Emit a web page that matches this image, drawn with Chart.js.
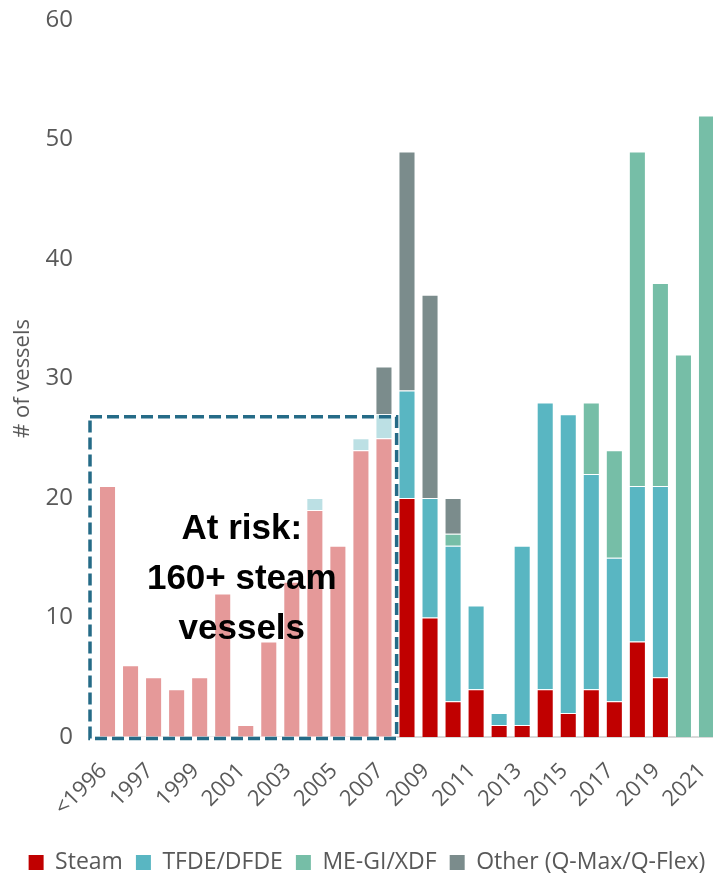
<!DOCTYPE html>
<html>
<head>
<meta charset="utf-8">
<script src="https://cdn.jsdelivr.net/npm/chart.js@4.4.1/dist/chart.umd.min.js"></script>
<style>
  html, body { margin: 0; padding: 0; background: #fff; overflow: hidden; }
  #wrap { position: relative; width: 718px; height: 875px; }
</style>
</head>
<body>
<div id="wrap"><canvas id="chart"></canvas></div>
<script>
// Delivery year of LNG carriers (first bucket = all ships delivered before 1996)
const categories = ['<1996', '1996', '1997', '1998', '1999', '2000', '2001', '2002', '2003',
  '2004', '2005', '2006', '2007', '2008', '2009', '2010', '2011', '2012', '2013', '2014',
  '2015', '2016', '2017', '2018', '2019', '2020', '2021'];

// Number of vessels by propulsion type
const steam = [21, 6, 5, 4, 5, 12, 1, 8, 13, 19, 16, 24, 25, 20, 10, 3, 4, 1, 1, 4, 2, 4, 3, 8, 5, 0, 0];
const tfde  = [0, 0, 0, 0, 0, 0, 0, 0, 0, 1, 0, 1, 2, 9, 10, 13, 7, 1, 15, 24, 25, 18, 12, 13, 16, 0, 0];
const megi  = [0, 0, 0, 0, 0, 0, 0, 0, 0, 0, 0, 0, 0, 0, 0, 1, 0, 0, 0, 0, 0, 6, 9, 28, 17, 32, 52];
const other = [0, 0, 0, 0, 0, 0, 0, 0, 0, 0, 0, 0, 4, 20, 17, 3, 0, 0, 0, 0, 0, 0, 0, 0, 0, 0, 0];

const seriesNames = ['Steam', 'TFDE/DFDE', 'ME-GI/XDF', 'Other (Q-Max/Q-Flex)'];
const yTicks = [0, 10, 20, 30, 40, 50, 60];

// Last delivery year inside the "at risk" group (older fleet, shown faded)
const atRiskLast = '2007';
const atRiskNote = ['At risk:', '160+ steam', 'vessels'];

const COLORS = ['#C00000', '#59B6C2', '#76BEA7', '#7B8C8C'];
const FADED  = ['#E59999', '#BCE0E4', '#76BEA7', '#7B8C8C'];

const cutIdx = categories.indexOf(atRiskLast);
function shade(k) {
  return categories.map((c, i) => (i <= cutIdx ? FADED[k] : COLORS[k]));
}

const seriesValues = [steam, tfde, megi, other];
const datasets = seriesValues.map((vals, k) => ({
  label: seriesNames[k],
  data: vals,
  backgroundColor: shade(k),
  borderColor: 'rgba(255,255,255,0.35)',
  borderWidth: 1,
  borderSkipped: 'start',
  barPercentage: 0.74,
  categoryPercentage: 1.0
}));

const FONT = "'Open Sans', 'DejaVu Sans', sans-serif";
const TEXT = '#595959';

// Dashed frame around the older steam fleet with its note
const riskFrame = {
  id: 'riskFrame',
  afterDatasetsDraw(chart) {
    const { ctx, scales: { x, y } } = chart;
    const step = x.getPixelForValue(1) - x.getPixelForValue(0);
    const left = x.getPixelForValue(0) - 0.76 * step;
    const right = x.getPixelForValue(cutIdx) + 0.55 * step;
    const top = y.getPixelForValue(26.8);
    const bottom = y.getPixelForValue(0) + 1.5;
    ctx.save();
    // blank out the axis line under the frame's bottom edge
    ctx.strokeStyle = '#ffffff';
    ctx.lineWidth = 4;
    ctx.beginPath();
    ctx.moveTo(left, bottom);
    ctx.lineTo(right, bottom);
    ctx.stroke();
    ctx.strokeStyle = '#256B87';
    ctx.lineWidth = 3.5;
    ctx.setLineDash([12, 5]);
    ctx.strokeRect(left, top, right - left, bottom - top);
    ctx.setLineDash([]);
    ctx.fillStyle = '#000000';
    ctx.font = "bold 35px 'Liberation Sans', Arial, sans-serif";
    ctx.textAlign = 'center';
    ctx.textBaseline = 'alphabetic';
    const cx = left + 0.495 * (right - left);
    const baseY = y.getPixelForValue(16.6);
    const lineGap = 50;
    atRiskNote.forEach((line, i) => ctx.fillText(line, cx, baseY + i * lineGap));
    ctx.restore();
  }
};

// Nudge the legend row down and slightly right
const legendShift = {
  id: 'legendShift',
  afterLayout(chart) {
    const lg = chart.legend;
    if (lg) {
      lg.top += 9; lg.bottom += 9;
      lg.left += 8; lg.right += 8;
    }
  }
};

new Chart(document.getElementById('chart'), {
  type: 'bar',
  data: { labels: categories, datasets },
  options: {
    responsive: true,
    maintainAspectRatio: false,
    animation: false,
    layout: { padding: { top: 20, left: 0, right: 0, bottom: 0 } },
    plugins: {
      tooltip: { enabled: false },
      legend: {
        position: 'bottom',
        align: 'center',
        labels: {
          boxWidth: 15,
          boxHeight: 15,
          padding: 13,
          color: TEXT,
          font: { family: FONT, size: 23 },
          generateLabels: (chart) => chart.data.datasets.map((ds, i) => ({
            text: ds.label,
            fillStyle: COLORS[i],
            strokeStyle: COLORS[i],
            lineWidth: 0,
            fontColor: TEXT,
            hidden: !chart.isDatasetVisible(i),
            datasetIndex: i
          }))
        }
      }
    },
    scales: {
      x: {
        stacked: true,
        grid: { display: false, drawTicks: false },
        border: { display: true, color: '#D9D9D9', width: 2 },
        ticks: {
          autoSkip: false,
          minRotation: 45,
          maxRotation: 45,
          padding: 21,
          labelOffset: -4,
          color: TEXT,
          font: { family: FONT, size: 22 },
          callback: (v, i) => (i % 2 === 0 ? categories[i] : '')
        },
        afterFit: (scale) => {
          scale.height = 92;
          scale.paddingLeft = 0;
          scale.paddingRight = 0;
        }
      },
      y: {
        stacked: true,
        min: 0,
        max: 60,
        afterBuildTicks: (scale) => { scale.ticks = yTicks.map(v => ({ value: v })); },
        grid: { display: false, drawTicks: false },
        border: { display: false },
        ticks: {
          padding: 23,
          color: TEXT,
          font: { family: FONT, size: 24 }
        },
        title: {
          display: true,
          text: '# of vessels',
          color: TEXT,
          padding: { top: 10, bottom: 0 },
          font: { family: FONT, size: 22 }
        },
        afterFit: (scale) => {
          scale.width = 96;
          scale.paddingTop = 0;
          scale.paddingBottom = 0;
        }
      }
    }
  },
  plugins: [riskFrame, legendShift]
});
</script>
</body>
</html>
